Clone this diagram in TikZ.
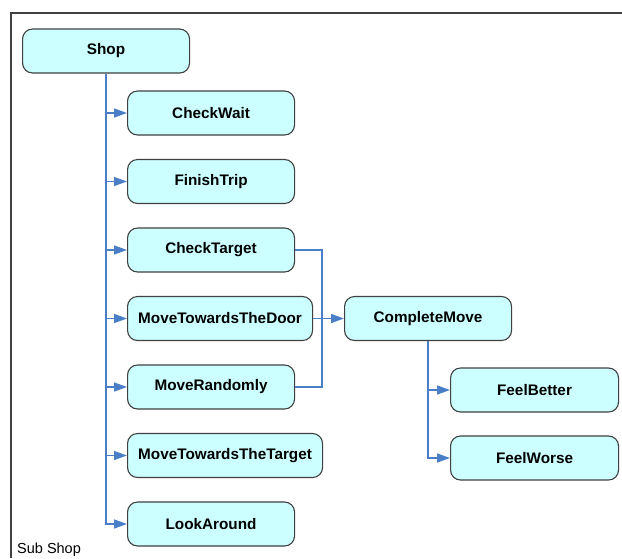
\documentclass[tikz,border=0pt]{standalone}
\usepackage{fontspec}
\setmainfont{Liberation Sans}
\usepackage{xcolor}
\usetikzlibrary{arrows.meta}
\definecolor{boxfill}{RGB}{204,255,255}
\definecolor{boxline}{RGB}{64,64,64}
\definecolor{linkblue}{RGB}{74,126,198}

\begin{document}
\begin{tikzpicture}[x=1pt, y=-1pt,
  task/.style={draw=boxline, line width=1.1pt, fill=boxfill, rounded corners=10pt,
    minimum width=167pt, minimum height=44pt, anchor=west, inner sep=2pt,
    font=\fontsize{15.3}{17}\selectfont\bfseries},
  link/.style={draw=linkblue, line width=1.4pt},
  tip/.style={link, -{Triangle[length=13pt, width=9pt]}}]
\useasboundingbox (0,0) rectangle (622,558);
\draw[boxline, line width=1.3pt] (622,13) -- (11,13) -- (11,558);
\node[task] (shop) at (22,51) {Shop};
\node[task] (checkwait) at (127,113) {CheckWait};
\node[task] (finishtrip) at (127,181.5) {FinishTrip};
\node[task] (checktarget) at (127,250) {CheckTarget};
\node[task, minimum width=185pt] (door) at (127,318.5) {MoveTowardsTheDoor};
\node[task] (randomly) at (127,387) {MoveRandomly};
\node[task, minimum width=195pt] (target) at (127,455.5) {MoveTowardsTheTarget};
\node[task] (lookaround) at (127,524) {LookAround};
\node[task] (complete) at (344,318.5) {CompleteMove};
\node[task, minimum width=168pt] (better) at (450,390) {FeelBetter};
\node[task, minimum width=168pt] (worse) at (450,458) {FeelWorse};
\node[anchor=base west, inner sep=0pt, font=\fontsize{14.5}{16}\selectfont] (label) at (17,553) {Sub Shop};
\coordinate (join) at (322,318.5);
\draw[tip] (shop.south) |- (checkwait.west);
\draw[tip] (shop.south) |- (finishtrip.west);
\draw[tip] (shop.south) |- (checktarget.west);
\draw[tip] (shop.south) |- (door.west);
\draw[tip] (shop.south) |- (randomly.west);
\draw[tip] (shop.south) |- (target.west);
\draw[tip] (shop.south) |- (lookaround.west);
\draw[link] (checktarget.east) -| (join) |- (randomly.east);
\draw[tip] (door.east) -- (complete.west);
\draw[tip] (complete.south) |- (better.west);
\draw[tip] (complete.south) |- (worse.west);
\end{tikzpicture}
\end{document}
